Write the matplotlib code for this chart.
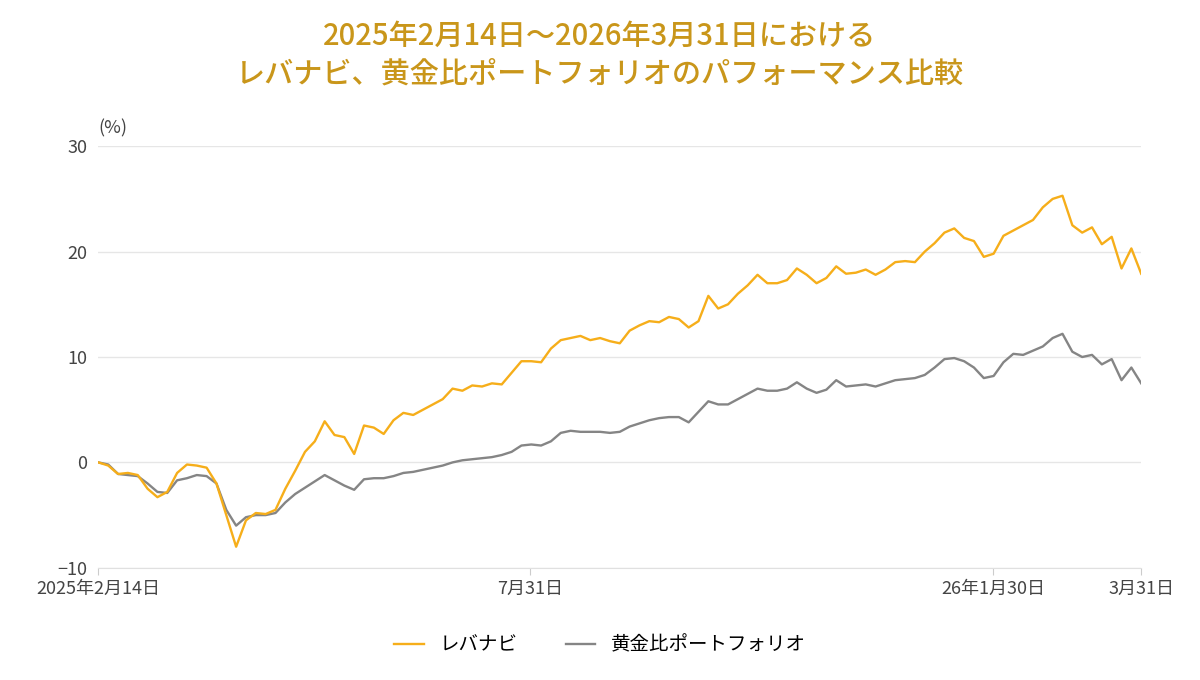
import numpy as np
import matplotlib
matplotlib.use("Agg")
import matplotlib.pyplot as plt

plt.rcParams['font.family'] = ['Noto Sans CJK JP', 'DejaVu Sans']

# レバナビ (%)
levanavi = [0, -0.3, -1.1, -1.0, -1.2, -2.5, -3.3, -2.8, -1.0, -0.2, -0.3, -0.5, -2.0,
            -5.0, -8.0, -5.5, -4.8, -4.9, -4.5, -2.5, -0.8, 1.0, 2.0, 3.9, 2.6, 2.4, 0.8,
            3.5, 3.3, 2.7, 4.0, 4.7, 4.5, 5.0, 5.5, 6.0, 7.0, 6.8, 7.3, 7.2, 7.5, 7.4, 8.5,
            9.6, 9.6, 9.5, 10.8, 11.6, 11.8, 12.0, 11.6, 11.8, 11.5, 11.3, 12.5, 13.0, 13.4,
            13.3, 13.8, 13.6, 12.8, 13.4, 15.8, 14.6, 15.0, 16.0, 16.8, 17.8, 17.0, 17.0,
            17.3, 18.4, 17.8, 17.0, 17.5, 18.6, 17.9, 18.0, 18.3, 17.8, 18.3, 19.0, 19.1,
            19.0, 20.0, 20.8, 21.8, 22.2, 21.3, 21.0, 19.5, 19.8, 21.5, 22.0, 22.5, 23.0,
            24.2, 25.0, 25.3, 22.5, 21.8, 22.3, 20.7, 21.4, 18.4, 20.3, 17.9]
# 黄金比ポートフォリオ (%)
golden = [0, -0.2, -1.1, -1.2, -1.3, -2.0, -2.8, -2.9, -1.7, -1.5, -1.2, -1.3, -2.0,
          -4.5, -6.0, -5.2, -5.0, -5.0, -4.8, -3.8, -3.0, -2.4, -1.8, -1.2, -1.7, -2.2,
          -2.6, -1.6, -1.5, -1.5, -1.3, -1.0, -0.9, -0.7, -0.5, -0.3, 0.0, 0.2, 0.3, 0.4,
          0.5, 0.7, 1.0, 1.6, 1.7, 1.6, 2.0, 2.8, 3.0, 2.9, 2.9, 2.9, 2.8, 2.9, 3.4, 3.7,
          4.0, 4.2, 4.3, 4.3, 3.8, 4.8, 5.8, 5.5, 5.5, 6.0, 6.5, 7.0, 6.8, 6.8, 7.0, 7.6,
          7.0, 6.6, 6.9, 7.8, 7.2, 7.3, 7.4, 7.2, 7.5, 7.8, 7.9, 8.0, 8.3, 9.0, 9.8, 9.9,
          9.6, 9.0, 8.0, 8.2, 9.5, 10.3, 10.2, 10.6, 11.0, 11.8, 12.2, 10.5, 10.0, 10.2,
          9.3, 9.8, 7.8, 9.0, 7.5]
tick_labels = ['2025年2月14日', '7月31日', '26年1月30日', '3月31日']
tick_pos = [0, 0.414, 0.858, 1.0]

fig = plt.figure(figsize=(12, 6.8), dpi=100)
ax = fig.add_axes([0.082, 0.165, 0.869, 0.62])

x1 = np.linspace(0, 1, len(levanavi))
x2 = np.linspace(0, 1, len(golden))
ax.plot(x2, golden, color='#858585', lw=1.7, label='黄金比ポートフォリオ')
ax.plot(x1, levanavi, color='#F6AE1A', lw=1.7, label='レバナビ')

ax.set_xlim(0, 1)
ax.set_ylim(-10, 30)
ax.set_yticks([-10, 0, 10, 20, 30])
ax.set_xticks(tick_pos)
ax.set_xticklabels(tick_labels)
ax.tick_params(axis='y', length=0, labelsize=13, colors='#444444', pad=8)
ax.tick_params(axis='x', length=5, color='#cccccc', labelsize=13, colors='#444444')
ax.grid(axis='y', color='#e6e6e6', lw=1)
for s in ['top', 'right', 'left']:
    ax.spines[s].set_visible(False)
ax.spines['bottom'].set_color('#e0e0e0')
ax.set_axisbelow(True)
ax.text(0.0, 1.03, '(%)', transform=ax.transAxes, fontsize=13, color='#444444', ha='left')

fig.suptitle('2025年2月14日～2026年3月31日における\nレバナビ、黄金比ポートフォリオのパフォーマンス比較',
             y=0.97, fontsize=21, color='#C9961A', linespacing=1.3, fontweight='medium')

h, l = ax.get_legend_handles_labels()
fig.legend(h[::-1], l[::-1], loc='lower center', ncol=2, frameon=False, fontsize=14,
           bbox_to_anchor=(0.5, 0.01), handlelength=1.5, columnspacing=2.5)

fig.savefig('out.png')
